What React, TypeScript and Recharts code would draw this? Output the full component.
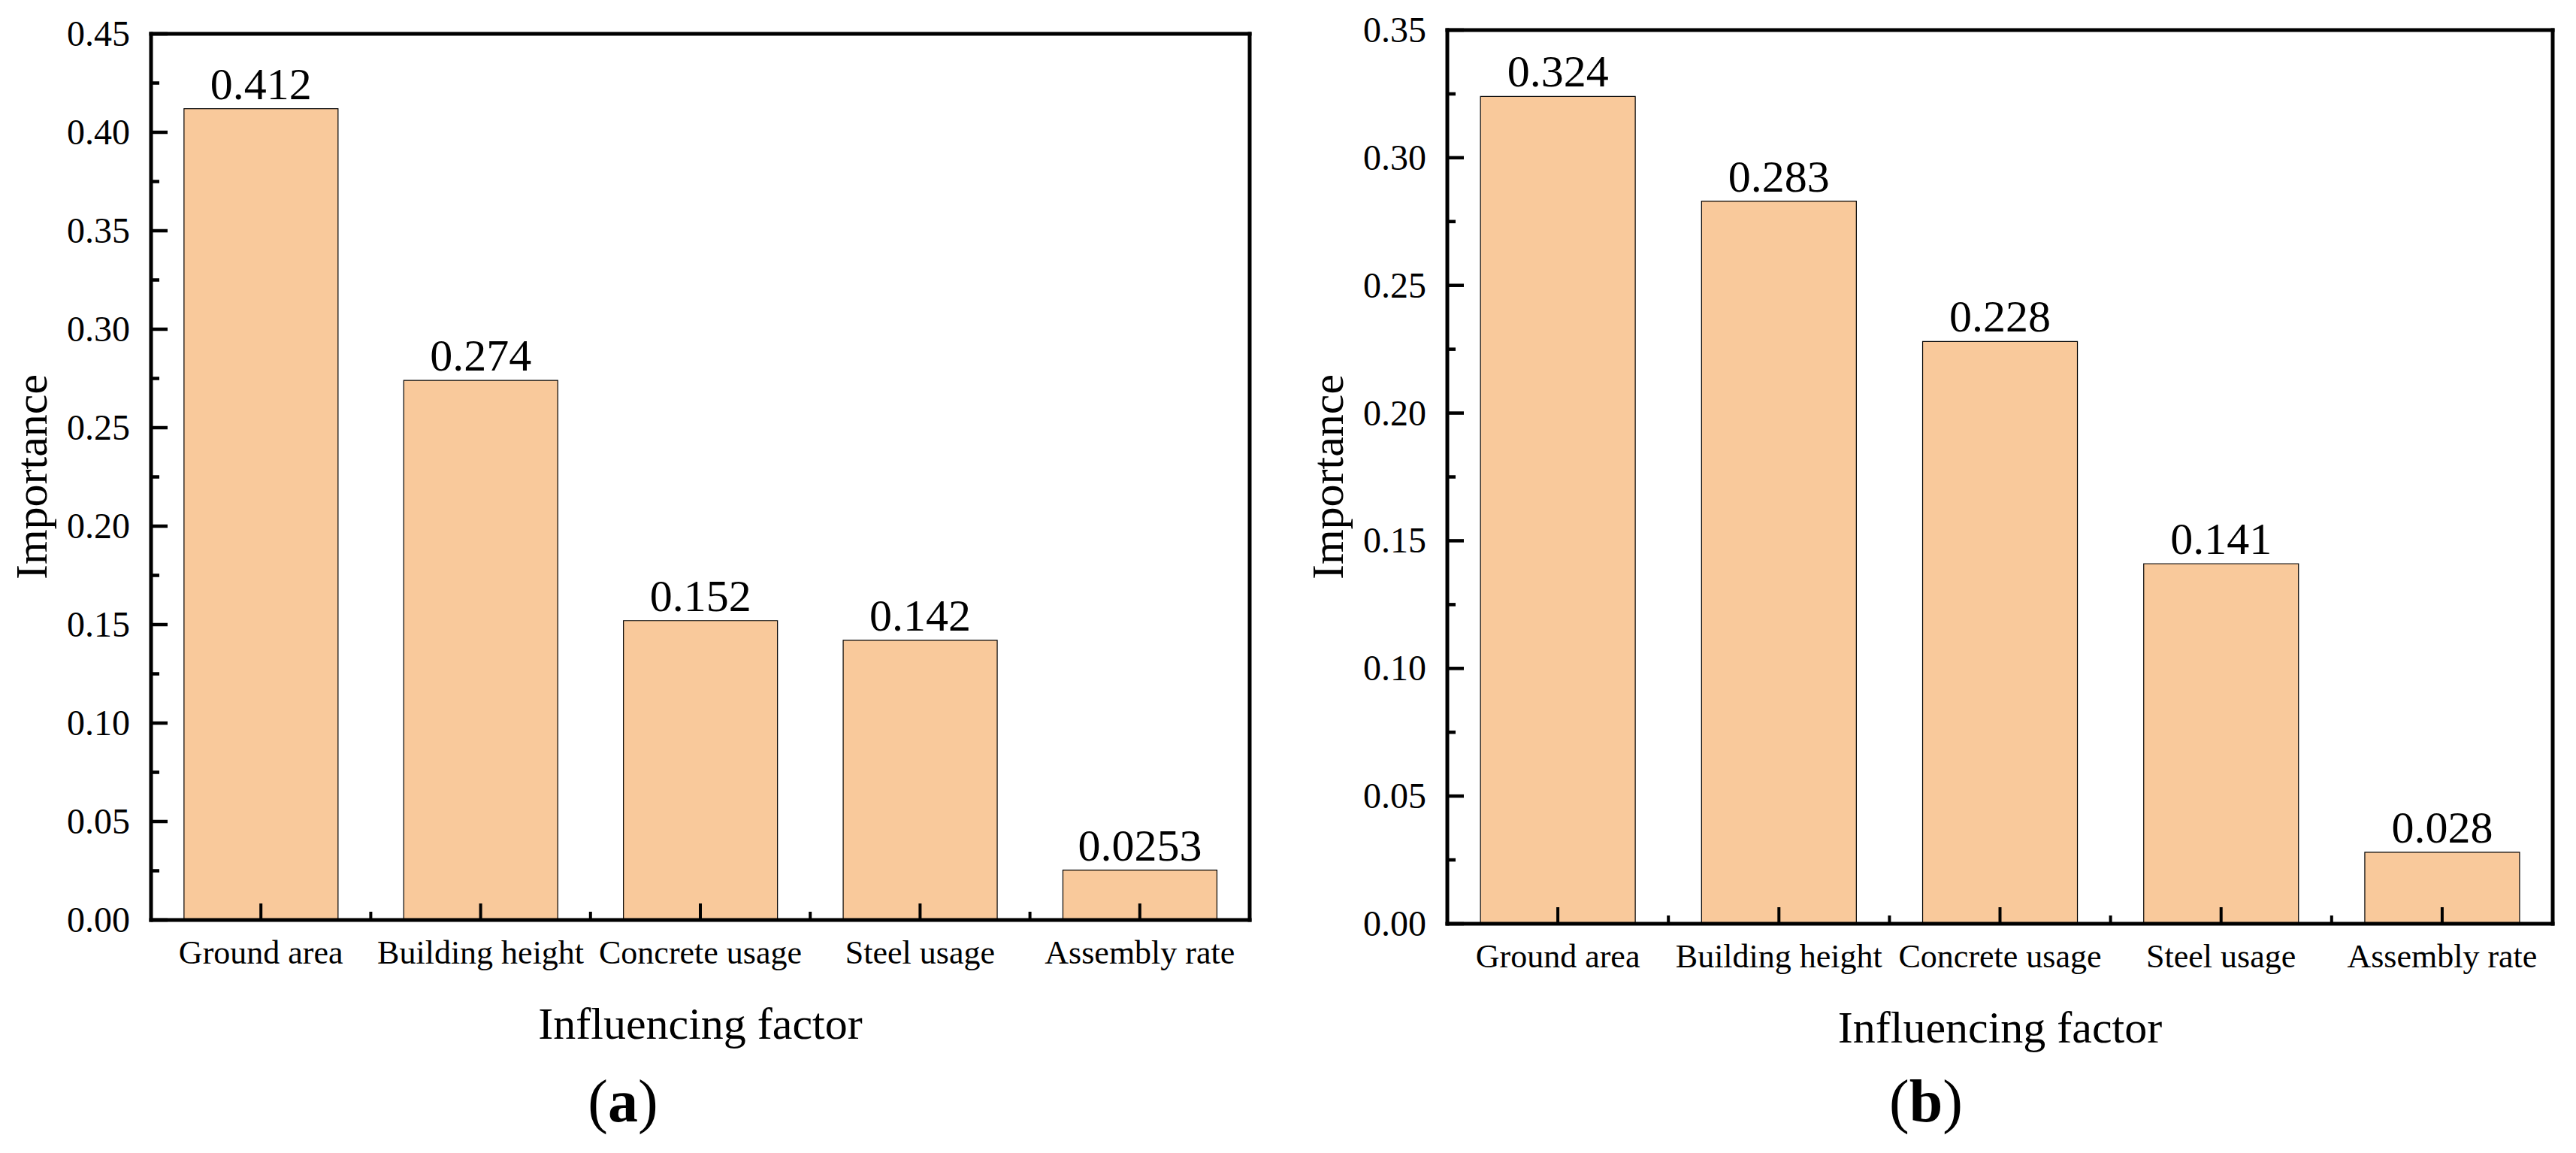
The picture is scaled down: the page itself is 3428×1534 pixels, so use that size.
import React from "react";
import { Bar, BarChart, LabelList, XAxis, YAxis } from "recharts";

// factor names on the x axis (same order in both panels)
const factors = ["Ground area", "Building height", "Concrete usage", "Steel usage", "Assembly rate"];

// (a) and (b) importance values
const importanceA = [0.412, 0.274, 0.152, 0.142, 0.0253];
const importanceB = [0.324, 0.283, 0.228, 0.141, 0.028];

// y ticks, majors every 0.05 with a minor in between
const yTicksA = [0, 0.025, 0.05, 0.075, 0.1, 0.125, 0.15, 0.175, 0.2, 0.225, 0.25, 0.275, 0.3, 0.325, 0.35, 0.375, 0.4, 0.425, 0.45];
const yTicksB = [0, 0.025, 0.05, 0.075, 0.1, 0.125, 0.15, 0.175, 0.2, 0.225, 0.25, 0.275, 0.3, 0.325, 0.35];

const FONT = '"Liberation Serif", "Times New Roman", serif';
const BAR_FILL = "#F9C99B";
const AXIS = { stroke: "#000", strokeWidth: 5, strokeLinecap: "square" as const };

function YTick(props: any) {
  const { x, y, payload } = props;
  const major = Math.round(payload.value * 1000) % 50 === 0;
  return (
    <g>
      <line x1={x} x2={x + (major ? 22 : 11)} y1={y} y2={y} stroke="#000" strokeWidth={4.5} />
      {major && (
        <text x={x - 28} y={y} dy={16} textAnchor="end" fontSize={48} fontFamily={FONT} fill="#000">
          {payload.value.toFixed(2)}
        </text>
      )}
    </g>
  );
}

function makeXTick(band: number) {
  return (props: any) => {
    const { x, y, payload, index } = props;
    return (
      <g>
        <line x1={x} x2={x} y1={y} y2={y - 22} stroke="#000" strokeWidth={4} />
        {index < factors.length - 1 && (
          <line x1={x + band / 2} x2={x + band / 2} y1={y} y2={y - 11} stroke="#000" strokeWidth={4} />
        )}
        <text x={x} y={y + 58} textAnchor="middle" fontSize={44} fontFamily={FONT} fill="#000">
          {payload.value}
        </text>
      </g>
    );
  };
}

function yTitle(props: any) {
  const vb = props.viewBox;
  const x = vb.x + vb.width - 139;
  const y = vb.y + vb.height / 2;
  return (
    <text x={x} y={y} transform={`rotate(-90, ${x}, ${y})`} textAnchor="middle" fontSize={60} fontFamily={FONT} fill="#000">
      Importance
    </text>
  );
}

type PanelProps = {
  values: number[];
  ticks: number[];
  yMax: number;
  width: number;
  height: number;
  plot: { left: number; right: number; top: number; bottom: number };
};

const Y_AXIS_W = 180;
const X_AXIS_H = 200;

function ImportancePanel({ values, ticks, yMax, width, height, plot }: PanelProps) {
  const data = factors.map((name, i) => ({ name, value: values[i] }));
  const band = (plot.right - plot.left) / factors.length;
  // the top / right frame axes are 1px thick boxes
  const margin = {
    top: plot.top - 1,
    right: width - plot.right - 1,
    bottom: height - plot.bottom - X_AXIS_H,
    left: plot.left - Y_AXIS_W,
  };

  return (
    <BarChart width={width} height={height} data={data} margin={margin} barCategoryGap="15%">
      <XAxis
        dataKey="name"
        height={X_AXIS_H}
        interval={0}
        tickSize={0}
        tickMargin={0}
        axisLine={AXIS}
        tickLine={false}
        tick={makeXTick(band)}
        label={{ value: "Influencing factor", position: "insideBottom", offset: 42, fontSize: 60, fontFamily: FONT, fill: "#000" }}
      />
      <XAxis xAxisId="top" dataKey="name" orientation="top" height={1} axisLine={AXIS} tickLine={false} tick={false} />
      <YAxis
        domain={[0, yMax]}
        ticks={ticks}
        interval={0}
        width={Y_AXIS_W}
        tickSize={0}
        tickMargin={0}
        axisLine={AXIS}
        tickLine={false}
        tick={YTick}
        label={yTitle}
      />
      <YAxis yAxisId="right" orientation="right" domain={[0, yMax]} width={1} axisLine={AXIS} tickLine={false} tick={false} />
      <Bar dataKey="value" fill={BAR_FILL} stroke="#000" strokeWidth={1.2} isAnimationActive={false}>
        <LabelList dataKey="value" position="top" offset={13} fontSize={60} fontFamily={FONT} fill="#000" />
      </Bar>
    </BarChart>
  );
}

export default function App() {
  return (
    <div style={{ position: "absolute", left: 0, top: 0, width: 3428, height: 1534, background: "#fff", fontFamily: FONT }}>
      <div style={{ position: "absolute", left: 0, top: 0 }}>
        <ImportancePanel
          values={importanceA}
          ticks={yTicksA}
          yMax={0.45}
          width={1714}
          height={1534}
          plot={{ left: 201, right: 1663, top: 45, bottom: 1224 }}
        />
      </div>
      <div style={{ position: "absolute", left: 1714, top: 0 }}>
        <ImportancePanel
          values={importanceB}
          ticks={yTicksB}
          yMax={0.35}
          width={1714}
          height={1534}
          plot={{ left: 212, right: 1683, top: 40, bottom: 1229 }}
        />
      </div>
      <svg width={3428} height={1534} style={{ position: "absolute", left: 0, top: 0, pointerEvents: "none" }}>
        <text x={829} y={1492} textAnchor="middle" fontSize={80} fontFamily={FONT} fill="#000">
          (<tspan fontWeight="bold">a</tspan>)
        </text>
        <text x={2563} y={1492} textAnchor="middle" fontSize={80} fontFamily={FONT} fill="#000">
          (<tspan fontWeight="bold">b</tspan>)
        </text>
      </svg>
    </div>
  );
}
